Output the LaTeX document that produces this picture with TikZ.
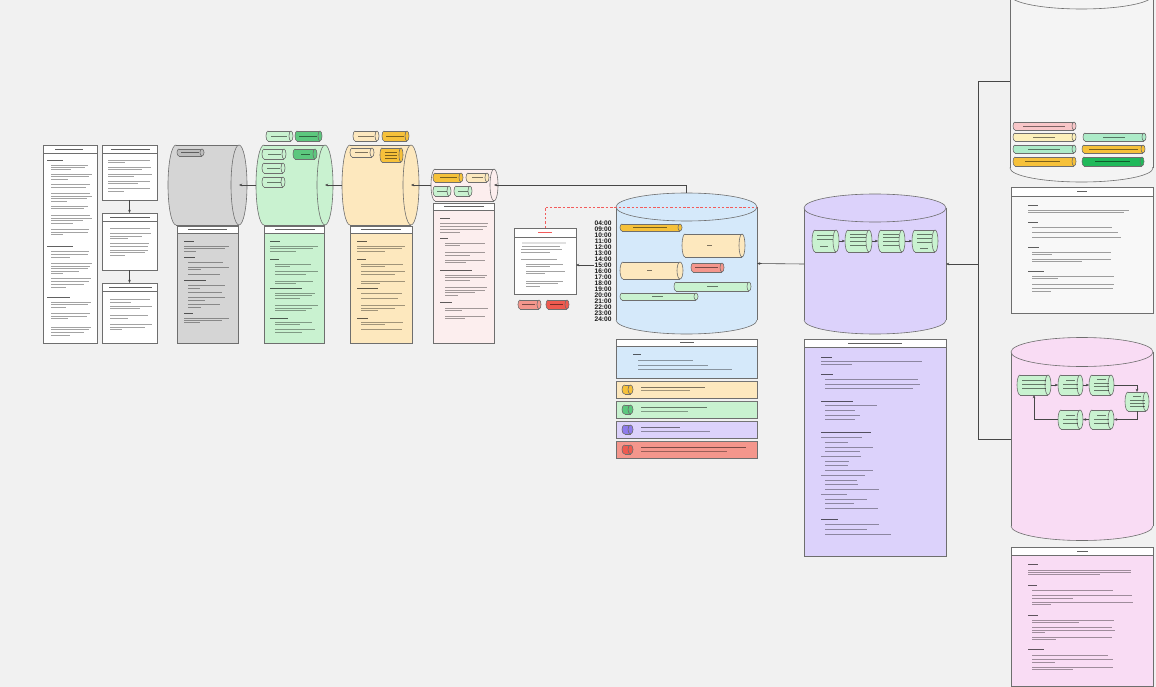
\documentclass[tikz,border=0pt]{standalone}
\usepackage{fontspec}
\setmainfont{Liberation Sans}
\usetikzlibrary{arrows.meta,calc}
\definecolor{bgc}{HTML}{F1F1F1}
\definecolor{bd}{HTML}{6E6E6E}
\definecolor{grayF}{HTML}{D5D5D5}
\definecolor{grayP}{HTML}{BDBDBD}
\definecolor{grnL}{HTML}{C9F2D0}
\definecolor{grnM}{HTML}{5CC77E}
\definecolor{grnB}{HTML}{20B95A}
\definecolor{mint}{HTML}{ADEBC8}
\definecolor{ylwL}{HTML}{FDE8BE}
\definecolor{ylwD}{HTML}{F6C13A}
\definecolor{ylwP}{HTML}{FCF0BB}
\definecolor{pnkL}{HTML}{FCEEEE}
\definecolor{pnkBar}{HTML}{F8C6C8}
\definecolor{bluL}{HTML}{D5E9FA}
\definecolor{purL}{HTML}{DCD2FB}
\definecolor{purD}{HTML}{8E7BEB}
\definecolor{magL}{HTML}{F9DCF4}
\definecolor{redL}{HTML}{F4968C}
\definecolor{redD}{HTML}{EE5A4F}
\definecolor{rtopC}{HTML}{F4F4F4}
\definecolor{panelW}{HTML}{F8F8F8}
\definecolor{dashred}{HTML}{F25C5C}

% horizontal cylinder: name, x1, x2, ytop, ybot, rx, fill, draw
\newcommand{\mycylh}[8]{%
  \pgfmathsetmacro\qxl{#2+#6}%
  \pgfmathsetmacro\qxr{#3-#6}%
  \pgfmathsetmacro\qyc{(#4+#5)/2}%
  \pgfmathsetmacro\qry{(#5-#4)/2}%
  \pgfmathsetmacro\qw{#3-#2}%
  \pgfmathsetmacro\qh{#5-#4}%
  \fill[#7] (\qxl,#4) rectangle (\qxr,#5);
  \fill[#7] (\qxl,\qyc) ellipse[x radius=#6, y radius=\qry];
  \draw[#8,lw] (\qxl,#4) -- (\qxr,#4) (\qxl,#5) -- (\qxr,#5);
  \begin{scope}
    \clip (#2-2,#4-2) rectangle (\qxl,#5+2);
    \draw[#8,lw] (\qxl,\qyc) ellipse[x radius=#6, y radius=\qry];
  \end{scope}
  \filldraw[fill=#7,draw=#8,lw] (\qxr,\qyc) ellipse[x radius=#6, y radius=\qry];
  \node[inner sep=0,outer sep=0,minimum width=\qw pt,minimum height=\qh pt,anchor=north west] (#1) at (#2,#4) {};
}
% vertical cylinder: name, x1, x2, ytop-centre, ybot-centre, ry, fill, draw
\newcommand{\mycylv}[8]{%
  \pgfmathsetmacro\qxc{(#2+#3)/2}%
  \pgfmathsetmacro\qrx{(#3-#2)/2}%
  \pgfmathsetmacro\qw{#3-#2}%
  \pgfmathsetmacro\qh{#5-#4+2*#6}%
  \pgfmathsetmacro\qtop{#4-#6}%
  \fill[#7] (#2,#4) rectangle (#3,#5);
  \fill[#7] (\qxc,#5) ellipse[x radius=\qrx, y radius=#6];
  \draw[#8,lw] (#2,#4) -- (#2,#5) (#3,#4) -- (#3,#5);
  \begin{scope}
    \clip (#2-2,#5) rectangle (#3+2,#5+#6+2);
    \draw[#8,lw] (\qxc,#5) ellipse[x radius=\qrx, y radius=#6];
  \end{scope}
  \filldraw[fill=#7,draw=#8,lw] (\qxc,#4) ellipse[x radius=\qrx, y radius=#6];
  \node[inner sep=0,outer sep=0,minimum width=\qw pt,minimum height=\qh pt,anchor=north west] (#1) at (#2,\qtop) {};
}
% panel: name, x1, y1, x2, y2, fill, header height
\newcommand{\pnl}[7]{%
  \pgfmathsetmacro\qw{#4-#2}%
  \pgfmathsetmacro\qh{#5-#3}%
  \pgfmathsetmacro\qhy{#3+#7}%
  \node[draw=bd,lw,fill=#6,inner sep=0,outer sep=0,minimum width=\qw pt,minimum height=\qh pt,anchor=north west] (#1) at (#2,#3) {};
  \filldraw[fill=white,draw=bd,lw] (#2,#3) rectangle (#4,\qhy);
}
\newcommand{\tls}[1]{\foreach \ua/\ub/\uy in {#1} {\draw[txt] (\ua,\uy) -- (\ub,\uy);}}
\newcommand{\hds}[1]{\foreach \ua/\ub/\uy in {#1} {\draw[hdl] (\ua,\uy) -- (\ub,\uy);}}
\newcommand{\ins}[1]{\foreach \ua/\ub/\uy in {#1} {\draw[inl] (\ua,\uy) -- (\ub,\uy);}}

\begin{document}
\begin{tikzpicture}[x=1pt,y=-1pt,
  lw/.style={line width=0.6pt},
  txt/.style={line width=0.75pt,draw=black,draw opacity=0.36},
  hdl/.style={line width=0.95pt,draw=black,draw opacity=0.62},
  inl/.style={line width=0.7pt,draw=black,draw opacity=0.5},
  conn/.style={draw=black!72,line width=0.6pt},
  arr/.style={conn,-{Stealth[length=3.2pt,width=2.6pt]}},
  reddash/.style={draw=dashred,line width=0.9pt,dash pattern=on 2.5pt off 1.8pt},
  tlab/.style={font=\fontsize{6.6}{6.6}\selectfont\bfseries,inner sep=0.3pt,anchor=east,text=black!90}]
\useasboundingbox (0,0) rectangle (1156,687);
\clip (0,0) rectangle (1156,687);
\fill[bgc] (0,0) rectangle (1156,687);

%% ---------------- left documents
\pnl{docA}{43}{145}{97}{343}{white}{8}
\hds{55/83/149, 47/63/160, 47/73/246, 47/70/297}
\tls{51/88/165, 51/85/167, 51/71/169, 51/92/174, 51/89/176, 51/68/179, 51/90/184, 51/86/187,
     51/90/193, 51/92/196, 51/87/198, 51/67/201, 51/88/206, 51/84/208, 51/90/215, 51/92/218,
     51/83/220, 51/73/223, 51/89/229, 51/88/232, 51/63/234,
     51/89/251, 51/88/254, 51/70/257, 51/92/263, 51/90/266, 51/88/268, 51/79/271, 51/63/273,
     51/91/278, 51/89/281, 51/84/284, 51/66/287,
     51/91/302, 51/88/304, 51/66/307, 51/90/313, 51/87/316, 51/68/318, 51/91/327, 51/89/329,
     51/84/332, 51/70/335}
\pnl{docB}{102}{145}{157}{200}{white}{8}
\hds{111/150/149}
\tls{108/150/160, 108/125/162, 108/151/167, 108/142/169, 108/152/174, 108/134/176,
     108/150/181, 108/138/183, 108/150/188, 108/124/191}
\pnl{docC}{102}{213}{157}{270}{white}{8}
\hds{110/150/217}
\tls{110/150/228, 110/151/233, 110/142/236, 110/128/238, 110/149/243, 110/148/246,
     110/148/250, 110/145/252, 110/125/255}
\pnl{docD}{102}{283}{157}{343}{white}{8}
\hds{109/152/287}
\tls{110/150/299, 110/131/302, 110/152/306, 110/140/308, 110/148/315, 110/128/318,
     110/152/324, 110/145/327, 110/122/329}
\draw[arr] (docB.south) -- (docC.north);
\draw[arr] (docC.south) -- (docD.north);

%% ---------------- gray stage
\mycylh{graycyl}{168}{247}{145}{225}{8}{grayF}{bd}
\mycylh{grayp1}{177}{204}{149}{156}{2}{grayP}{bd}
\ins{181/199/152.5}
\pnl{pgray}{177}{226}{238}{343}{grayF}{7}
\hds{188/227/229.5, 184/194/241, 184/195/257, 184/206/280, 184/193/313}
\tls{184/229/246, 184/225/248, 184/196/251, 188/223/262, 188/229/267, 188/201/269, 188/220/274,
     188/225/285, 188/200/288, 188/222/292, 188/225/297, 188/205/300, 188/220/304, 188/201/307,
     184/229/318, 184/222/320, 184/200/322}

%% ---------------- green stage
\mycylh{grncyl}{256}{333}{145}{225}{8}{grnL}{bd}
\mycylh{gtop1}{266}{293}{131}{141}{2}{grnL}{bd}
\mycylh{gtop2}{295}{322}{131}{141}{2}{grnM}{bd}
\mycylh{gin1}{262}{286}{149}{159}{2}{grnL}{bd}
\mycylh{gin2}{293}{317}{149}{159}{2}{grnM}{bd}
\mycylh{gin3}{262}{285}{163}{173}{2}{grnL}{bd}
\mycylh{gin4}{262}{285}{177}{187}{2}{grnL}{bd}
\ins{271/287/136, 299/317/136, 268/281/154, 301/310/154, 267/280/168, 267/281/182}
\pnl{pgreen}{264}{226}{324}{343}{grnL}{7}
\hds{275/315/229.5, 270/280/241, 270/279/259, 270/302/288, 270/288/318}
\tls{270/318/246, 270/313/248, 270/296/251, 275/311/264, 275/290/266, 275/318/271, 275/306/274,
     275/313/281, 275/296/283, 275/315/293, 275/312/295, 275/300/298, 275/318/305, 275/312/308,
     275/306/310, 275/312/322, 275/300/324, 275/315/329, 275/302/332}

%% ---------------- yellow stage
\mycylh{ylwcyl}{342}{419}{145}{225}{8}{ylwL}{bd}
\mycylh{ytop1}{353}{379}{131}{141}{2}{ylwL}{bd}
\mycylh{ytop2}{382}{409}{131}{141}{2}{ylwD}{bd}
\mycylh{yin1}{350}{374}{148}{157}{2}{ylwL}{bd}
\mycylh{yin2}{380}{403}{148}{162}{2}{ylwD}{bd}
\ins{358/374/136, 386/404/136, 355/368/152.5, 385/397/152, 385/397/155, 385/397/158}
\pnl{pyellow}{350}{226}{412}{343}{ylwL}{7}
\hds{361/401/229.5, 357/367/241, 357/366/259, 357/378/288, 357/368/318}
\tls{357/405/246, 357/402/248, 357/385/251, 361/403/264, 361/385/266, 361/405/271, 361/395/274,
     361/405/281, 361/380/283, 361/402/293, 361/398/298, 361/405/305, 361/395/308, 361/378/310,
     361/403/322, 361/385/324, 361/402/329}

%% ---------------- pink stage
\mycylh{pnkcyl}{431}{498}{169}{201}{4}{pnkL}{bd}
\mycylh{pin1}{433}{463}{173}{182}{2}{ylwD}{bd}
\mycylh{pin2}{466}{489}{173}{182}{2}{ylwL}{bd}
\mycylh{pin3}{433}{451}{186}{196}{2}{grnL}{bd}
\mycylh{pin4}{454}{472}{186}{196}{2}{grnL}{bd}
\ins{440/457/177.5, 472/483/177.5, 437/447/191, 458/468/191}
\pnl{ppink}{433}{203}{494}{343}{pnkL}{7}
\hds{444/484/206.5, 440/450/218, 440/448/238, 440/472/270, 440/452/302}
\tls{440/488/223, 440/487/226, 440/483/229, 440/460/232, 445/485/243, 445/460/245, 445/485/252,
     445/470/255, 445/485/260, 445/466/262, 445/487/275, 445/485/277, 445/470/280, 445/487/287,
     445/485/290, 445/475/292, 445/458/295, 445/488/308, 445/462/310, 445/485/316, 445/465/318}

%% ---------------- stage connectors
\draw[arr] (grncyl.west) -- ($(graycyl.east)+(-8,0)$);
\draw[arr] (ylwcyl.west) -- ($(grncyl.east)+(-8,0)$);
\draw[arr] (pnkcyl.west) -- ($(ylwcyl.east)+(-8,0)$);

%% ---------------- blue schedule cylinder
\mycylv{bluecyl}{616}{757}{207}{320}{14}{bluL}{bd}
\mycylh{b1}{620}{682}{224}{231}{2}{ylwD}{bd}
\mycylh{b2}{682}{745}{234}{257}{3}{ylwL}{bd}
\mycylh{b3}{620}{683}{262}{279}{3}{ylwL}{bd}
\mycylh{b4}{691}{724}{263}{272}{2}{redL}{bd}
\mycylh{b5}{674}{751}{282}{291}{2}{grnL}{bd}
\mycylh{b6}{620}{698}{293}{300}{2}{grnL}{bd}
\ins{633/667/227.5, 707/712/245.5, 647/652/270.5, 695/718/267.5, 707/718/286.5, 652/663/296.5}
\foreach \t [count=\i] in {04:00,09:00,10:00,11:00,12:00,13:00,14:00,15:00,16:00,17:00,18:00,19:00,20:00,21:00,22:00,23:00,24:00}
  \node[tlab] (t\i) at (612,{223+6*(\i-1)}) {\t};

%% central document
\pnl{cdoc}{514}{228}{576}{294}{white}{9}
\draw[line width=0.8pt,draw=dashred] (538,232.5) -- (552,232.5);
\draw[line width=1.6pt,draw=black!12] (522,243) -- (566,243);
\tls{522/560/246, 521/562/249, 521/550/252, 521/557/259, 526/563/264, 526/550/266, 526/565/271,
     526/545/273, 526/563/281, 526/558/283, 526/540/286}
\mycylh{cr1}{518}{541}{300}{309}{2}{redL}{bd}
\mycylh{cr2}{546}{569}{300}{309}{2}{redD}{bd}
\ins{522/535/304.5, 550/563/304.5}
\coordinate (blueTR) at (757,207);
\draw[reddash] (cdoc.north) |- (blueTR);
\draw[arr] (t8.west) -- (t8.west -| cdoc.east);
\draw[arr] (bluecyl.north) |- ($(pnkcyl.east)+(-4,0)$);

%% legend
\pnl{lgd}{616}{339}{757}{378}{bluL}{7}
\hds{680/694/342.5, 633/641/354}
\tls{638/693/360, 638/708/365, 638/732/369}
\pnl{lrow1}{616}{381}{757}{398}{ylwL}{0}
\pnl{lrow2}{616}{401}{757}{418}{grnL}{0}
\pnl{lrow3}{616}{421}{757}{438}{purL}{0}
\pnl{lrow4}{616}{441}{757}{458}{redL}{0}
\mycylh{li1}{622}{633}{385}{394}{2.5}{ylwD}{bd}
\mycylh{li2}{622}{633}{405}{414}{2.5}{grnM}{bd}
\mycylh{li3}{622}{633}{425}{434}{2.5}{purD}{bd}
\mycylh{li4}{622}{633}{445}{454}{2.5}{redD}{bd}
\ins{641/705/387.5, 641/707/407.5, 641/680/427.5, 641/746/447.5}
\tls{641/690/390.5, 641/688/411, 641/710/431, 641/727/451}

%% ---------------- purple cylinder
\mycylv{purcyl}{804}{946}{208}{320}{14}{purL}{bd}
\mycylh{u1}{812}{839}{230}{252}{3}{grnL}{bd}
\mycylh{u2}{845}{872}{230}{252}{3}{grnL}{bd}
\mycylh{u3}{878}{905}{230}{252}{3}{grnL}{bd}
\mycylh{u4}{912}{938}{230}{252}{3}{grnL}{bd}
\ins{817/833/235, 817/833/239, 820/828/246, 850/866/234, 850/866/237.5, 850/866/241, 850/866/245,
     883/899/234, 883/899/237.5, 883/899/241, 883/899/245, 917/932/234, 917/932/238, 917/932/242, 920/928/248}
\draw[arr] (u1.east) -- (u2.west);
\draw[arr] (u2.east) -- (u3.west);
\draw[arr] (u3.east) -- (u4.west);
\pnl{ppur}{804}{339}{946}{556}{purL}{8}
\hds{848/902/343, 821/832/357, 821/833/374, 821/853/401, 821/871/432, 821/838/519}
\tls{821/922/361, 821/852/364, 825/918/379, 825/920/384, 825/913/388, 825/877/405, 825/855/410,
     825/860/415, 825/855/419, 821/862/437, 825/848/442, 825/873/447, 825/860/451, 821/861/456,
     825/849/461, 825/848/465, 825/873/470, 821/865/475, 825/857/480, 825/858/484, 825/879/489,
     821/847/494, 825/867/499, 825/854/503, 825/878/508, 825/879/524, 825/867/529, 825/891/534}
\draw[arr] (purcyl.west) -- (bluecyl.east);

%% ---------------- right top cylinder
\mycylv{rtop}{1010}{1153}{-5}{168}{14}{rtopC}{bd}
\mycylh{r1}{1013}{1076}{122}{130}{2}{pnkBar}{bd}
\mycylh{r2}{1013}{1076}{133}{141}{2}{ylwP}{bd}
\mycylh{r3}{1083}{1146}{133}{141}{2}{mint}{bd}
\mycylh{r4}{1013}{1076}{145}{153}{2}{mint}{bd}
\mycylh{r5}{1082}{1145}{145}{153}{2}{ylwD}{bd}
\mycylh{r6}{1013}{1076}{157}{166}{2}{ylwD}{bd}
\mycylh{r7}{1082}{1144}{157}{166}{2}{grnB}{bd}
\ins{1023/1065/126, 1033/1055/137, 1103/1125/137, 1028/1060/149, 1089/1138/149, 1025/1060/161.5, 1095/1130/161.5}
\pnl{prt}{1011}{187}{1153}{313}{panelW}{9}
\hds{1077/1087/191.5, 1028/1038/205, 1028/1038/222, 1028/1039/247, 1028/1044/271}
\tls{1028/1129/210, 1028/1124/212, 1032/1112/227, 1032/1118/232, 1032/1121/237, 1032/1111/252,
     1032/1052/254, 1032/1111/259, 1032/1082/261, 1032/1114/276, 1032/1058/278, 1032/1114/284,
     1032/1113/288, 1032/1051/291}

%% ---------------- right pink cylinder
\mycylv{rpink}{1011}{1153}{352}{526}{14.5}{magL}{bd}
\mycylh{q1}{1017}{1051}{375}{395}{3}{grnL}{bd}
\mycylh{q2}{1058}{1083}{375}{395}{3}{grnL}{bd}
\mycylh{q3}{1089}{1114}{375}{395}{3}{grnL}{bd}
\mycylh{q4}{1125}{1149}{392}{411}{3}{grnL}{bd}
\mycylh{q5}{1058}{1083}{410}{429}{3}{grnL}{bd}
\mycylh{q6}{1089}{1114}{410}{429}{3}{grnL}{bd}
\ins{1022/1046/380, 1022/1046/384, 1022/1046/388, 1066/1075/380, 1063/1078/384, 1063/1078/388,
     1097/1106/379, 1094/1109/383, 1094/1109/386, 1094/1109/390, 1133/1141/396, 1130/1145/400,
     1130/1145/403, 1130/1145/406, 1066/1075/415, 1063/1078/419, 1063/1078/423,
     1097/1106/415, 1094/1109/419, 1094/1109/423}
\draw[arr] (q1.east) -- (q2.west);
\draw[arr] (q2.east) -- (q3.west);
\draw[arr] (q3.east) -| (q4.north);
\draw[arr] (q4.south) |- (q6.east);
\draw[arr] (q6.west) -- (q5.east);
\draw[arr] (q5.west) -| (q1.south);
\pnl{ppk}{1011}{547}{1153}{686}{magL}{8}
\hds{1077/1088/551, 1028/1038/564, 1028/1037/585, 1028/1038/615, 1028/1044/649}
\tls{1028/1131/570, 1028/1131/572, 1028/1100/574, 1032/1113/590, 1032/1132/595, 1032/1073/598,
     1032/1133/602, 1032/1051/604, 1032/1114/620, 1032/1079/622, 1032/1112/627, 1032/1115/630,
     1032/1045/632, 1032/1112/637, 1032/1056/639, 1032/1108/655, 1032/1113/659, 1032/1055/662,
     1032/1113/667, 1032/1073/669}

%% ---------------- fan-out from purple
\coordinate (jn) at (978,264);
\draw[conn] (rtop.west) -| (jn);
\draw[conn] (rpink.west) -| (jn);
\draw[arr] (jn) -- (purcyl.east);
\end{tikzpicture}
\end{document}
